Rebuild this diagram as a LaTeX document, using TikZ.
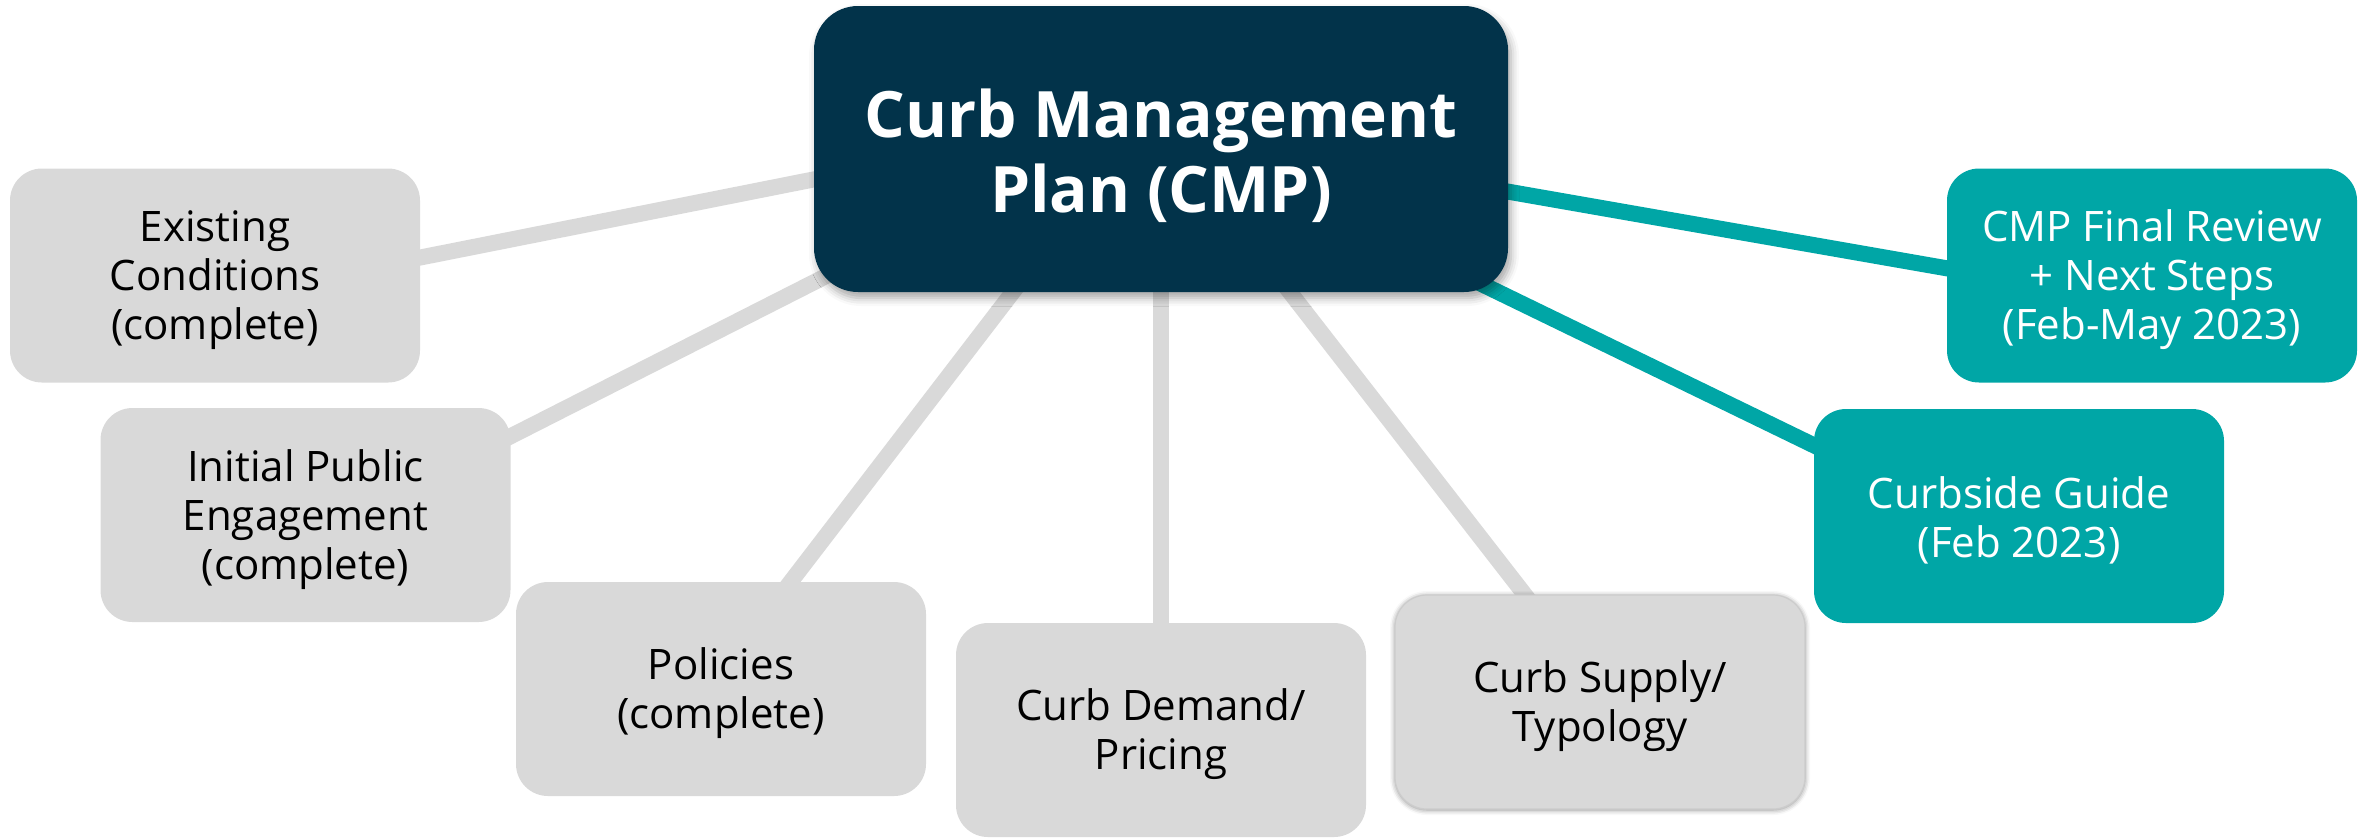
\documentclass[tikz,border=0pt]{standalone}
\usepackage{fontspec}
\setmainfont{Open Sans}
\usetikzlibrary{backgrounds}
\usetikzlibrary{shadows.blur}
\definecolor{navy}{RGB}{2,51,74}
\definecolor{cmpteal}{RGB}{0,166,166}
\definecolor{boxgray}{RGB}{217,217,217}
\newcommand{\lift}{\rule{0pt}{0.96em}}
\tikzset{t/.style={font=\fontsize{21}{24.5}\selectfont}}
\tikzset{h/.style={font=\fontsize{32}{37.5}\selectfont\bfseries}}
\tikzset{task/.style={t, rectangle, rounded corners=16pt, fill=boxgray, minimum width=205pt, minimum height=107pt, align=center, inner sep=0pt, outer sep=0pt}}
\tikzset{todo/.style={task, fill=cmpteal, text=white}}
\tikzset{hub/.style={h, rectangle, rounded corners=22pt, fill=navy, text=white, minimum width=347pt, minimum height=143pt, align=center, inner sep=0pt, outer sep=0pt,
  blur shadow={shadow xshift=1.5pt, shadow yshift=-3pt, shadow blur radius=4pt, shadow opacity=35}}}
\tikzset{link/.style={draw=boxgray, line width=8pt, shorten <=-12pt, shorten >=-12pt}}
\tikzset{nextlink/.style={link, draw=cmpteal}}

\begin{document}
\begin{tikzpicture}[x=0.5pt, y=-0.5pt]
        \useasboundingbox (0,0) rectangle (2372,837);
        \node [hub] (cmp) at (1161,149) {\lift Curb Management\\Plan (CMP)};
        \node [task] (exist) at (215,275.5) {\lift Existing\\Conditions\\(complete)};
        \node [task] (init) at (305.5,515) {\lift Initial Public\\Engagement\\(complete)};
        \node [task] (pol) at (721,689) {\lift Policies\\(complete)};
        \node [task] (dem) at (1161,730) {\lift Curb Demand/\\Pricing};
        \node [task, draw=black!20, line width=0.6pt,
          blur shadow={shadow xshift=0pt, shadow yshift=-0.5pt, shadow blur radius=2.5pt, shadow opacity=45}]
          (sup) at (1600,702) {\lift Curb Supply/\\Typology};
        \node [todo] (guide) at (2019,516) {\lift Curbside Guide\\(Feb 2023)};
        \node [todo] (final) at (2152,275.5) {\lift CMP Final Review\\+ Next Steps\\(Feb-May 2023)};
        \begin{scope}[on background layer]
          \draw [link] (exist.5.8) -- (cmp.185.5);
          \draw [link] (init.21.4) -- (cmp.201.4);
          \draw [link] (pol.57.2) -- (cmp.224.1);
          \draw [link] (dem.north) -- (cmp.270.8);
          \draw [link] (sup.125.9) -- (cmp.312.3);
          \draw [nextlink] (guide.161.5) -- (cmp.337.2);
          \draw [nextlink] (final.178.1) -- (cmp.353.6);
        \end{scope}
      \end{tikzpicture}
\end{document}
